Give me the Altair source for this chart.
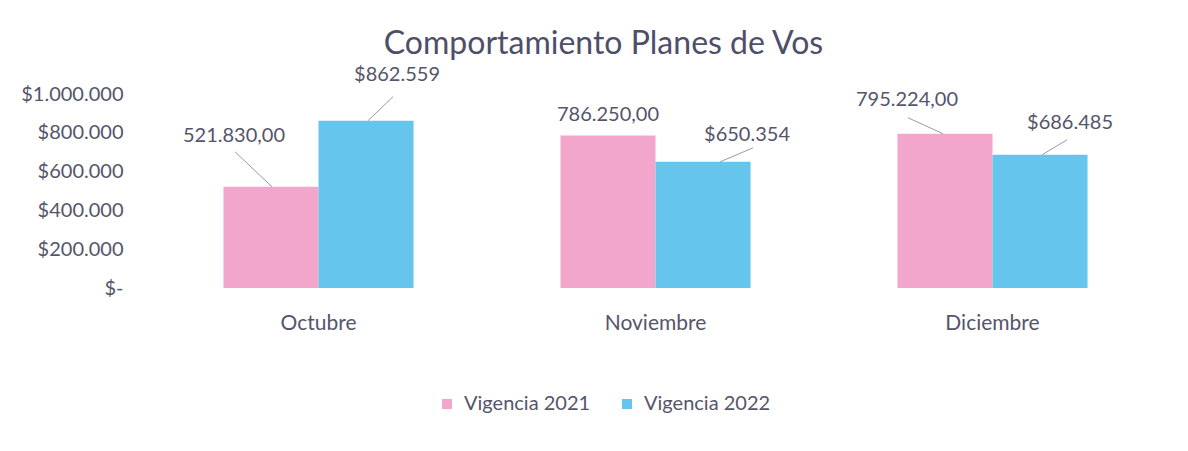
import altair as alt
import pandas as pd

months = ["Octubre", "Noviembre", "Diciembre"]
series = ["Vigencia 2021", "Vigencia 2022"]
v2021 = [521830, 786250, 795224]
v2022 = [862559, 650354, 686485]
y_ticks = [0, 200000, 400000, 600000, 800000, 1000000]


def fmt2021(v):
    s = f"{v:,.2f}"
    return s.replace(",", "X").replace(".", ",").replace("X", ".")


def fmt2022(v):
    return "$" + f"{v:,.0f}".replace(",", ".")


rows = []
for m, a, b in zip(months, v2021, v2022):
    rows.append({"month": m, "series": series[0], "value": a, "label": fmt2021(a)})
    rows.append({"month": m, "series": series[1], "value": b, "label": fmt2022(b)})
df = pd.DataFrame(rows)

PINK = "#F3A6CB"
BLUE = "#66C5EC"
TXT = "#55556A"
FONT = "Lato"
W, H = 1011, 194
HALF = W / 3 * 0.564 / 4  # half of one bar width

# label placement (dx, dy) and leader line (x0, y0, x1, y1), relative to bar top centre
placement = {
    ("Octubre", "Vigencia 2021"): ((-37, -51), (1, 0, -36, -35)),
    ("Octubre", "Vigencia 2022"): ((31, -46), (2, 0, 27, -24)),
    ("Noviembre", "Vigencia 2021"): ((0, -20), None),
    ("Noviembre", "Vigencia 2022"): ((44, -27), (17, 0, 50, -14)),
    ("Diciembre", "Vigencia 2021"): ((-38, -34), (-2, 0, -37, -16)),
    ("Diciembre", "Vigencia 2022"): ((30, -32), (2, 0, 27, -15)),
}

xscale = alt.Scale(domain=months, paddingInner=0.436, paddingOuter=0.218)
yscale = alt.Scale(domain=[0, 1000000])

xaxis = alt.Axis(title=None, labelAngle=0, ticks=False, domain=False, grid=False,
                 labelPadding=24, labelFontSize=21, labelColor=TXT, labelFont=FONT)
yaxis = alt.Axis(title=None, values=y_ticks, ticks=False, domain=False, grid=False,
                 labelOverlap=False, labelBound=False, labelFlush=False,
                 labelPadding=27, labelFontSize=20, labelColor=TXT, labelFont=FONT,
                 labelExpr="datum.value == 0 ? '$-' : '$' + replace(format(datum.value, ',d'), /,/g, '.')")

X = alt.X("month:N", sort=months, scale=xscale, axis=xaxis)
Y = alt.Y("value:Q", scale=yscale, axis=yaxis)

base = alt.Chart(df)

bars = base.mark_bar().encode(
    x=X,
    xOffset=alt.XOffset("series:N", sort=series, scale=alt.Scale(paddingInner=0, paddingOuter=0)),
    y=Y,
    color=alt.Color("series:N", sort=series,
                    scale=alt.Scale(domain=series, range=[PINK, BLUE]),
                    legend=alt.Legend(title=None, orient="none", direction="horizontal",
                                      legendX=287, legendY=300, symbolType="square",
                                      symbolSize=100, symbolStrokeWidth=0, labelFontSize=20,
                                      labelColor=TXT, labelFont=FONT, columnPadding=26,
                                      labelOffset=7, padding=0)),
)

layers = [bars]
for (m, s), ((dx, dy), line) in placement.items():
    sub = base.transform_filter(
        (alt.datum.month == m) & (alt.datum.series == s))
    layers.append(sub.mark_text(dx=dx, dy=dy, fontSize=20, font=FONT, color=TXT).encode(
        x=X,
        xOffset=alt.XOffset("series:N", sort=series),
        y=Y,
        text="label:N",
    ))
    if line is not None:
        sx = -HALF if s == series[0] else HALF
        x0, y0, x1, y1 = line
        layers.append(sub.mark_rule(color="#9A9AA8", strokeWidth=1,
                                    xOffset=sx + x0, x2Offset=sx + x1,
                                    yOffset=y0, y2Offset=y1).encode(
            x=X,
            x2="month:N",
            y=Y,
            y2="value:Q",
        ))

chart = alt.layer(*layers).properties(
    width=W, height=H,
    autosize=alt.AutoSizeParams(type="none"),
    padding={"left": 142, "top": 86, "right": 19, "bottom": 150},
    title=alt.TitleParams("Comportamiento Planes de Vos", fontSize=32, font=FONT,
                          fontWeight="normal", color="#4E4E6A", anchor="middle",
                          frame="group", dx=-52, offset=4),
).configure_view(strokeWidth=0, stroke="transparent")

chart.save("out.html", embed_options={"renderer": "svg", "actions": False})
